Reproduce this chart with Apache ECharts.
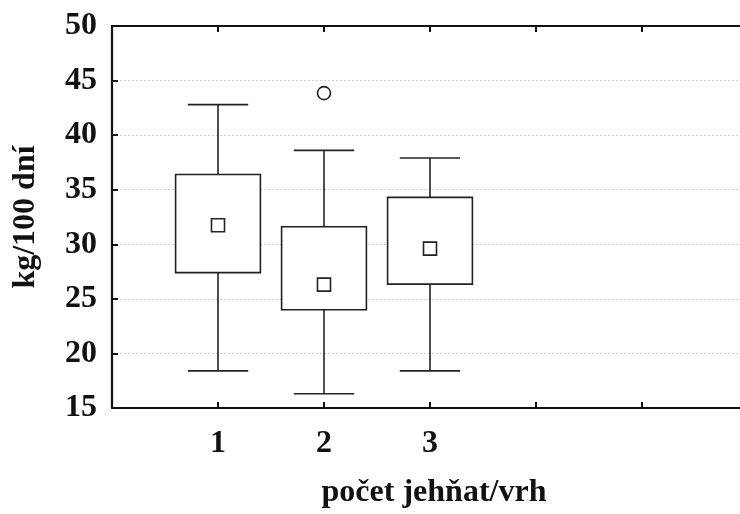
<!DOCTYPE html>
<html lang="cs">

<head>
	<meta charset="UTF-8">
	<title>kg/100 dní</title>
	<script src="https://cdn.jsdelivr.net/npm/echarts@6/dist/echarts.min.js"></script>
	<style>
		html, body { margin: 0; padding: 0; background: #fff; }
	</style>
</head>

<body>
	<div id="main" style="width: 740px;height: 514px;"></div>

	<script>
		// skupiny (počet jehňat/vrh)
		var groups = [1, 2, 3];
		// whisker low, box low, box high, whisker high
		var whiskerLow = [18.4, 16.3, 18.4];
		var boxLow = [27.4, 24.0, 26.35];
		var boxHigh = [36.4, 31.6, 34.3];
		var whiskerHigh = [42.8, 38.6, 37.9];
		var means = [31.75, 26.3, 29.6];
		// odlehlé hodnoty
		var outliers = [[2, 43.85]];
		var yTicks = [15, 20, 25, 30, 35, 40, 45, 50];

		var chartDom = document.getElementById('main');
		var myChart = echarts.init(chartDom);
		var option;

		var lineColor = '#222';
		var fontFamily = '"Liberation Serif", "Times New Roman", serif';

		var boxData = groups.map(function (g, i) {
			return [g, whiskerLow[i], boxLow[i], boxHigh[i], whiskerHigh[i]];
		});
		var meanData = groups.map(function (g, i) {
			return [g, means[i]];
		});

		function renderBox(params, api) {
			var x = api.value(0);
			var pLow = api.coord([x, api.value(1)]);
			var pQ1 = api.coord([x, api.value(2)]);
			var pQ3 = api.coord([x, api.value(3)]);
			var pHigh = api.coord([x, api.value(4)]);
			var boxW = api.size([0.8, 0])[0];
			var capW = api.size([0.57, 0])[0];
			var style = { stroke: lineColor, lineWidth: 1.6, fill: null };
			return {
				type: 'group',
				children: [
					{ type: 'line', shape: { x1: pLow[0], y1: pLow[1], x2: pQ1[0], y2: pQ1[1] }, style: style },
					{ type: 'line', shape: { x1: pHigh[0], y1: pHigh[1], x2: pQ3[0], y2: pQ3[1] }, style: style },
					{ type: 'line', shape: { x1: pLow[0] - capW / 2, y1: pLow[1], x2: pLow[0] + capW / 2, y2: pLow[1] }, style: style },
					{ type: 'line', shape: { x1: pHigh[0] - capW / 2, y1: pHigh[1], x2: pHigh[0] + capW / 2, y2: pHigh[1] }, style: style },
					{
						type: 'rect',
						shape: { x: pQ3[0] - boxW / 2, y: pQ3[1], width: boxW, height: pQ1[1] - pQ3[1] },
						style: { stroke: lineColor, lineWidth: 1.6, fill: '#fff' }
					}
				]
			};
		}

		option = {
			animation: false,
			backgroundColor: '#fff',
			grid: {
				left: 112,
				top: 26,
				right: -8,
				bottom: 106,
				outerBoundsMode: 'none',
				containLabel: false
			},
			xAxis: [
				{
					type: 'value',
					min: 0,
					max: 6,
					interval: 1,
					position: 'bottom',
					name: 'počet jehňat/vrh',
					nameLocation: 'middle',
					nameGap: 69,
					nameTextStyle: { fontFamily: fontFamily, fontWeight: 'bold', fontSize: 32, color: '#111', padding: [0, 0, 0, 8] },
					axisLine: { lineStyle: { color: '#111', width: 2.2 } },
					axisTick: { inside: true, length: 6, lineStyle: { color: '#111', width: 2 } },
					axisLabel: {
						margin: 20,
						fontFamily: fontFamily,
						fontWeight: 'bold',
						fontSize: 32,
						color: '#111',
						formatter: function (v) {
							return groups.indexOf(v) >= 0 ? String(v) : '';
						}
					},
					splitLine: { show: false }
				},
				{
					type: 'value',
					min: 0,
					max: 6,
					interval: 1,
					position: 'top',
					axisLine: { lineStyle: { color: '#111', width: 2.2 } },
					axisTick: { inside: true, length: 6, lineStyle: { color: '#111', width: 2 } },
					axisLabel: { show: false },
					splitLine: { show: false }
				}
			],
			yAxis: {
				type: 'value',
				min: yTicks[0],
				max: yTicks[yTicks.length - 1],
				interval: 5,
				name: 'kg/100 dní',
				nameLocation: 'middle',
				nameGap: 70,
				nameTextStyle: { fontFamily: fontFamily, fontWeight: 'bold', fontSize: 32, color: '#111' },
				axisLine: { show: true, lineStyle: { color: '#111', width: 2.2 } },
				axisTick: { show: true, inside: true, length: 6, lineStyle: { color: '#111', width: 2 } },
				axisLabel: {
					margin: 15,
					fontFamily: fontFamily,
					fontWeight: 'bold',
					fontSize: 32,
					color: '#111'
				},
				splitLine: { show: true, lineStyle: { color: '#ccc', type: [2, 2], width: 1 } }
			},
			series: [
				{
					type: 'custom',
					renderItem: renderBox,
					data: boxData,
					encode: { x: 0, y: [1, 2, 3, 4] },
					z: 3
				},
				{
					type: 'scatter',
					data: meanData,
					symbol: 'rect',
					symbolSize: 13,
					itemStyle: { color: '#fff', borderColor: lineColor, borderWidth: 1.6, opacity: 1 },
					z: 4
				},
				{
					type: 'scatter',
					data: outliers,
					symbol: 'circle',
					symbolSize: 13,
					itemStyle: { color: '#fff', borderColor: lineColor, borderWidth: 1.6, opacity: 1 },
					z: 4
				}
			]
		};

		option && myChart.setOption(option);
	</script>
</body>

</html>
